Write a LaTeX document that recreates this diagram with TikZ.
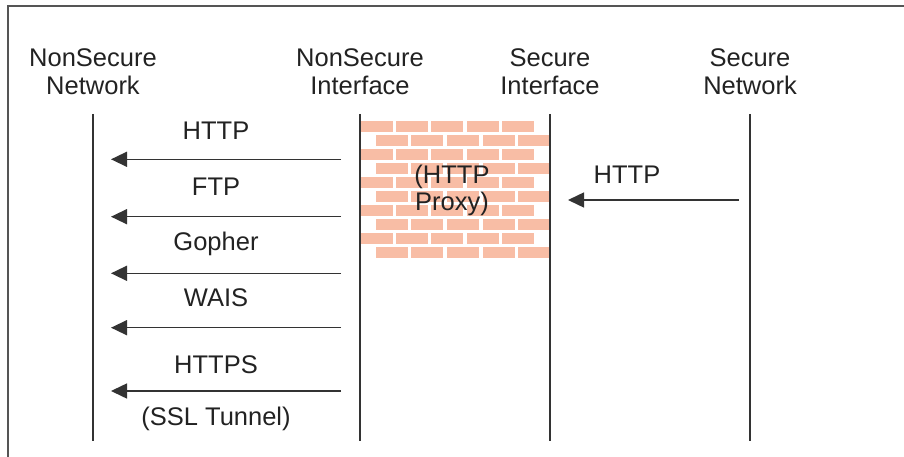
\documentclass[tikz,border=0pt]{standalone}
\usepackage{fontspec}
\setmainfont{Liberation Sans}
\usetikzlibrary{arrows.meta}
\definecolor{framegray}{HTML}{555555}
\definecolor{linegray}{HTML}{333333}
\definecolor{textcol}{HTML}{222222}
\definecolor{brick}{HTML}{F8BDA5}
\tikzset{
  lbl/.style={anchor=base, inner sep=0pt, text=textcol, font=\fontsize{25.5}{27.5}\selectfont},
  hdr/.style={anchor=base, inner sep=0pt, text=textcol, align=center, font=\fontsize{25.5}{27.5}\selectfont},
  lifeline/.style={draw=linegray, line width=1.5pt},
  msg/.style={draw=linegray, line width=1.5pt, -{Triangle[length=16pt,width=15pt]}, shorten >=0pt},
}
\begin{document}
\begin{tikzpicture}[x=1pt,y=-1pt]
\useasboundingbox (0,0) rectangle (904,457);
\begin{scope}
\clip (0,0) rectangle (904,457);
\draw[framegray, line width=2pt] (8,470) -- (8,6) -- (910,6);
\end{scope}
% bricks
\foreach \i in {0,2,4,6,8}{
  \foreach \xs in {360.7,395.5,431,467,502.3}{
    \fill[brick] (\xs,120.7+14*\i) rectangle ++(32,11.3);
  }
}
\foreach \i in {1,3,5,7,9}{
  \foreach \xs in {376,411,447,483,518}{
    \fill[brick] (\xs,120.7+14*\i) rectangle ++(32,11.3);
  }
}
% headers
\node[hdr] (h1) at (93,94.3) {NonSecure\\Network};
\node[hdr] (h2) at (360,94.3) {NonSecure\\Interface};
\node[hdr] (h3) at (550,94.3) {Secure\\Interface};
\node[hdr] (h4) at (750,94.3) {Secure\\Network};
% lifelines
\foreach \n/\x in {a/93,b/360,c/550,d/750}{
  \coordinate (\n top) at (\x,114);
  \coordinate (\n bot) at (\x,441);
  \draw[lifeline] (\n top) -- (\n bot);
}
% proxy text
\node[hdr] (proxy) at (452,210.5) {(HTTP\\Proxy)};
% left arrows
\foreach \n/\y in {m1/159.3,m2/216.7,m3/273.3,m4/327.7,m5/391}{
  \coordinate (\n s) at (341,\y);
  \coordinate (\n e) at (111,\y);
  \draw[msg] (\n s) -- (\n e);
}
\node[lbl] (l1) at (216,140) {HTTP};
\node[lbl] (l2) at (216,196) {FTP};
\node[lbl] (l3) at (216,250.7) {Gopher};
\node[lbl] (l4) at (216,306.7) {WAIS};
\node[lbl] (l5) at (216,373.3) {HTTPS};
\node[lbl] (l6) at (216,425) {(SSL Tunnel)};
% right arrow
\coordinate (r1s) at (739,200);
\coordinate (r1e) at (568,200);
\draw[msg] (r1s) -- (r1e);
\node[lbl] (r1) at (627,183.3) {HTTP};
\end{tikzpicture}
\end{document}
